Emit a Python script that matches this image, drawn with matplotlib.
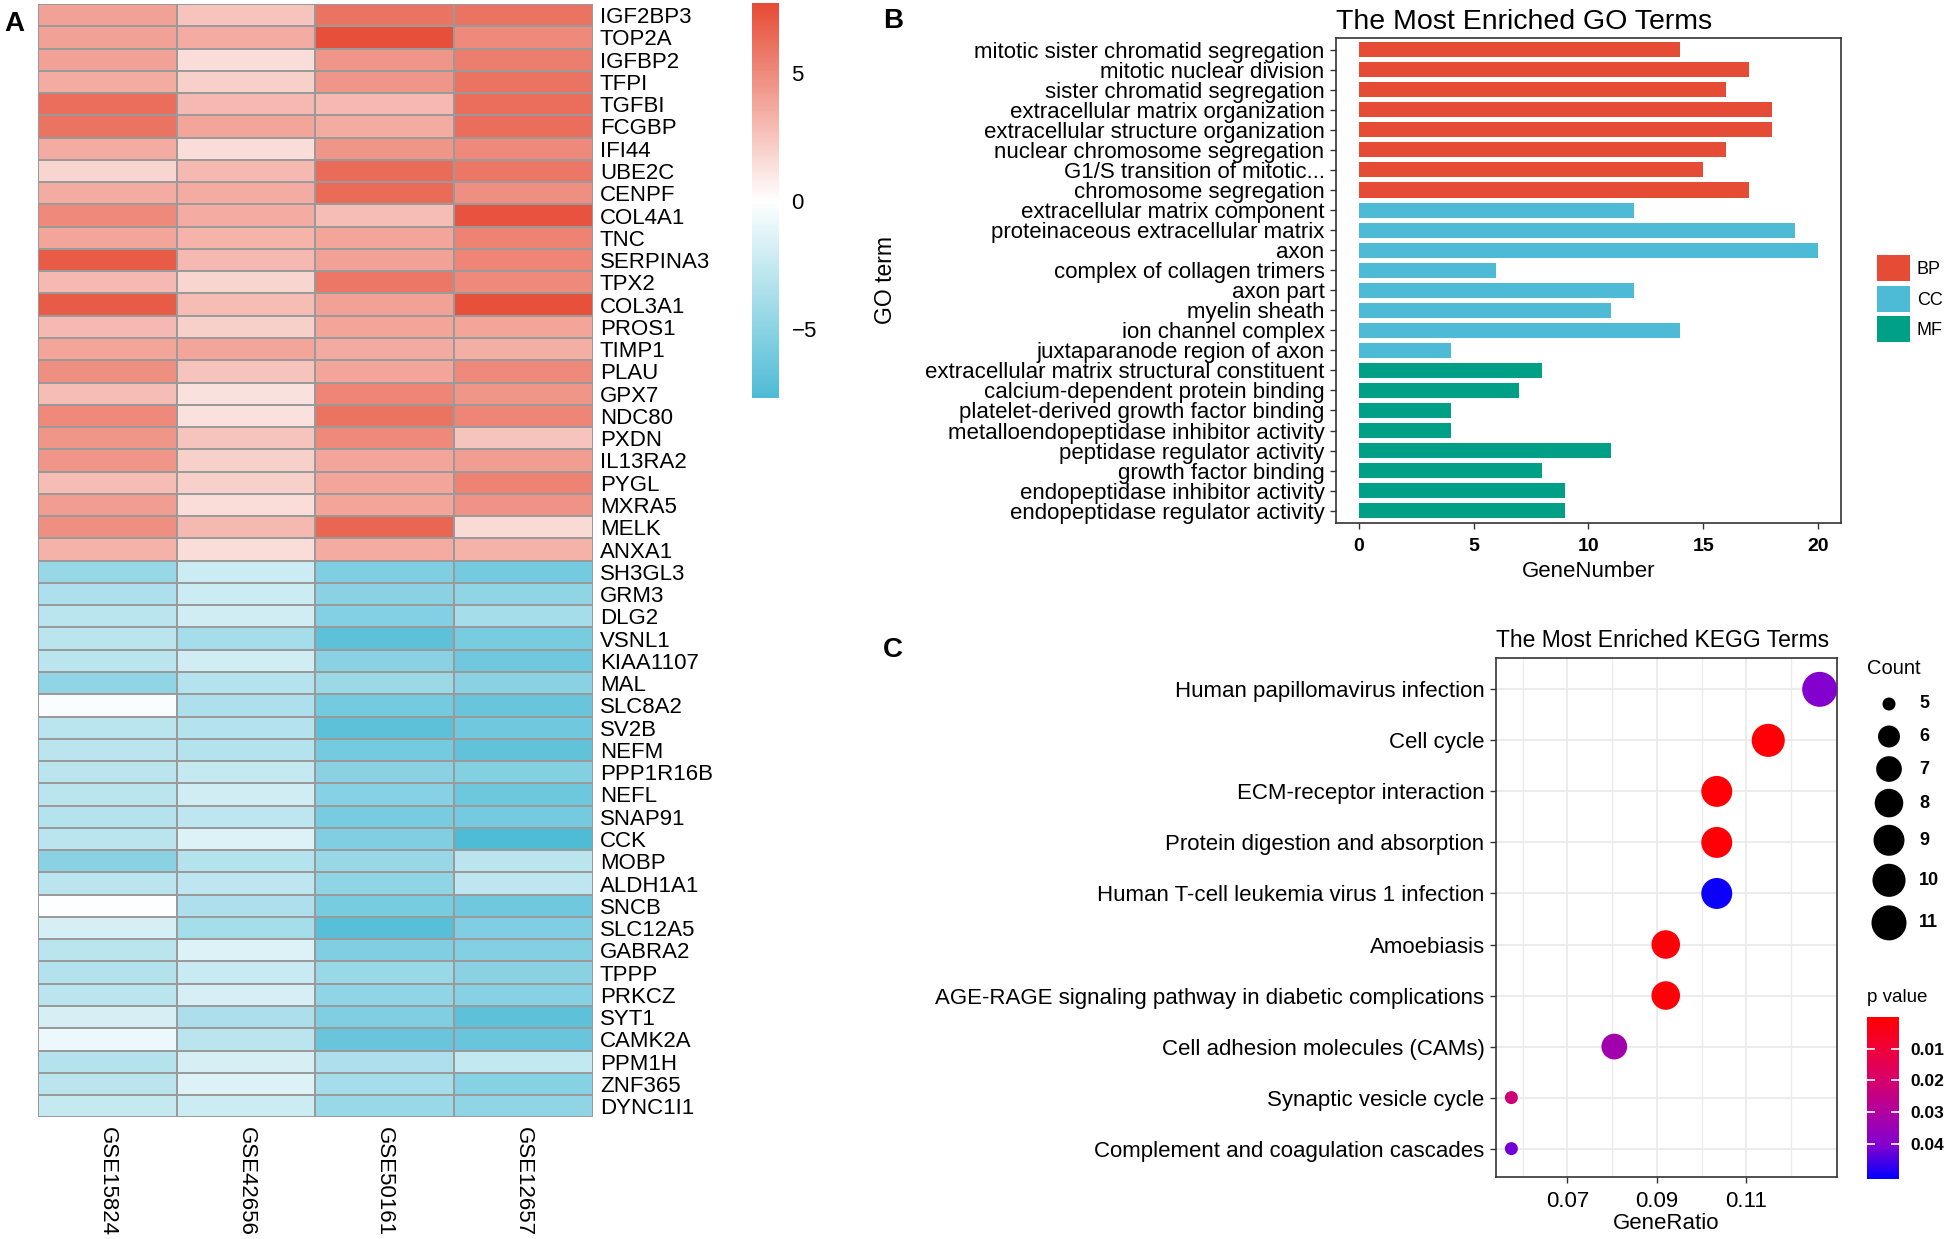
import numpy as np
import matplotlib
matplotlib.use('Agg')
import matplotlib.pyplot as plt
from matplotlib.colors import LinearSegmentedColormap, Normalize
from matplotlib.cm import ScalarMappable
from matplotlib.patches import Patch
from matplotlib import font_manager

plt.rcParams['font.family'] = ['Liberation Sans', 'DejaVu Sans']

# ---------------- data: heatmap (A) ----------------
genes = ['IGF2BP3', 'TOP2A', 'IGFBP2', 'TFPI', 'TGFBI', 'FCGBP', 'IFI44', 'UBE2C',
         'CENPF', 'COL4A1', 'TNC', 'SERPINA3', 'TPX2', 'COL3A1', 'PROS1', 'TIMP1',
         'PLAU', 'GPX7', 'NDC80', 'PXDN', 'IL13RA2', 'PYGL', 'MXRA5', 'MELK', 'ANXA1',
         'SH3GL3', 'GRM3', 'DLG2', 'VSNL1', 'KIAA1107', 'MAL', 'SLC8A2', 'SV2B', 'NEFM',
         'PPP1R16B', 'NEFL', 'SNAP91', 'CCK', 'MOBP', 'ALDH1A1', 'SNCB', 'SLC12A5',
         'GABRA2', 'TPPP', 'PRKCZ', 'SYT1', 'CAMK2A', 'PPM1H', 'ZNF365', 'DYNC1I1']
datasets = ['GSE15824', 'GSE42656', 'GSE50161', 'GSE12657']

gse15824 = [4.0, 4.0, 4.0, 3.5, 6.2, 6.0, 3.5, 1.8, 3.5, 5.0, 3.8, 7.0, 3.0, 7.0, 3.0,
            3.8, 4.8, 2.8, 5.0, 4.5, 4.5, 2.8, 4.2, 4.8, 3.3,
            -4.5, -3.5, -3.0, -3.0, -3.0, -4.8, -0.2, -3.0, -3.0, -3.0, -3.0, -3.2,
            -3.0, -5.0, -3.0, -0.1, -1.8, -3.0, -3.3, -3.0, -1.8, -0.8, -3.2, -3.0, -2.5]
gse42656 = [2.5, 3.5, 1.5, 2.0, 3.0, 3.8, 1.5, 3.0, 3.5, 3.5, 3.2, 3.0, 1.8, 2.8, 2.0,
            3.8, 2.5, 1.3, 1.3, 2.5, 2.0, 2.0, 1.5, 3.0, 1.5,
            -2.2, -2.2, -2.0, -3.8, -2.0, -3.2, -3.5, -3.2, -3.2, -2.5, -2.0, -2.8,
            -1.5, -3.2, -2.8, -3.5, -3.8, -1.5, -2.4, -1.8, -3.6, -3.0, -1.8, -1.5, -2.2]
gse50161 = [6.0, 7.5, 4.5, 4.5, 3.0, 3.5, 4.5, 6.3, 6.3, 2.8, 3.8, 4.0, 5.8, 4.0, 3.8,
            3.6, 3.8, 5.2, 6.0, 5.0, 3.8, 3.8, 3.8, 6.5, 3.5,
            -5.5, -5.0, -5.3, -7.0, -5.0, -4.3, -6.0, -7.0, -6.0, -5.0, -5.2, -5.8,
            -5.5, -4.5, -4.8, -5.8, -7.2, -5.5, -4.4, -4.8, -5.5, -6.5, -3.5, -3.8, -4.4]
gse12657 = [6.0, 5.0, 5.5, 6.0, 6.2, 6.2, 5.0, 5.8, 4.8, 7.3, 5.3, 5.2, 5.0, 7.4, 3.8,
            3.4, 5.0, 4.5, 5.2, 2.5, 4.2, 5.3, 4.6, 1.6, 3.3,
            -6.0, -4.8, -3.8, -5.8, -6.2, -5.0, -6.5, -6.2, -6.8, -5.3, -6.3, -6.0,
            -7.6, -3.0, -2.8, -6.2, -5.5, -5.3, -5.0, -5.2, -7.0, -6.5, -2.6, -5.2, -4.8]

# ---------------- data: GO terms (B) ----------------
go_terms = ['mitotic sister chromatid segregation', 'mitotic nuclear division',
            'sister chromatid segregation', 'extracellular matrix organization',
            'extracellular structure organization', 'nuclear chromosome segregation',
            'G1/S transition of mitotic...', 'chromosome segregation',
            'extracellular matrix component', 'proteinaceous extracellular matrix',
            'axon', 'complex of collagen trimers', 'axon part', 'myelin sheath',
            'ion channel complex', 'juxtaparanode region of axon',
            'extracellular matrix structural constituent', 'calcium-dependent protein binding',
            'platelet-derived growth factor binding', 'metalloendopeptidase inhibitor activity',
            'peptidase regulator activity', 'growth factor binding',
            'endopeptidase inhibitor activity', 'endopeptidase regulator activity']
go_counts = [14, 17, 16, 18, 18, 16, 15, 17, 12, 19, 20, 6, 12, 11, 14, 4,
             8, 7, 4, 4, 11, 8, 9, 9]
go_class = ['BP'] * 8 + ['CC'] * 8 + ['MF'] * 8
class_colors = {'BP': '#E64B35', 'CC': '#4DBBD5', 'MF': '#00A087'}

# ---------------- data: KEGG terms (C) ----------------
kegg_terms = ['Human papillomavirus infection', 'Cell cycle', 'ECM-receptor interaction',
              'Protein digestion and absorption', 'Human T-cell leukemia virus 1 infection',
              'Amoebiasis', 'AGE-RAGE signaling pathway in diabetic complications',
              'Cell adhesion molecules (CAMs)', 'Synaptic vesicle cycle',
              'Complement and coagulation cascades']
kegg_ratio = [0.1264, 0.1149, 0.1034, 0.1034, 0.1034, 0.0920, 0.0920, 0.0805, 0.0575, 0.0575]
kegg_count = [11, 10, 9, 9, 9, 8, 8, 7, 5, 5]
kegg_p = [0.040, 0.001, 0.001, 0.001, 0.050, 0.001, 0.001, 0.033, 0.022, 0.042]
count_breaks = [5, 6, 7, 8, 9, 10, 11]
p_ticks = [0.01, 0.02, 0.03, 0.04]

W, H = 1950, 1239
fig = plt.figure(figsize=(W / 100, H / 100), dpi=100)


def frac(x0, y0, x1, y1):
    # pixel box (top-left origin) -> figure fraction rect
    return [x0 / W, 1 - y1 / H, (x1 - x0) / W, (y1 - y0) / H]


# ---------------- A: heatmap ----------------
hm_cmap = LinearSegmentedColormap.from_list('hm', ['#4DBBD5', '#FFFFFF', '#E64B35'])
hm_vmin, hm_vmax = -7.7, 7.7
mat = np.array([gse15824, gse42656, gse50161, gse12657]).T

ax_hm = fig.add_axes(frac(37.7, 4, 593, 1117.3))
ax_hm.pcolormesh(mat, cmap=hm_cmap, vmin=hm_vmin, vmax=hm_vmax,
                 edgecolors='#9A9A9A', linewidth=1.3)
ax_hm.set_xlim(0, len(datasets))
ax_hm.set_ylim(len(genes), 0)
for s in ax_hm.spines.values():
    s.set_visible(False)
ax_hm.yaxis.tick_right()
ax_hm.set_yticks(np.arange(len(genes)) + 0.5)
ax_hm.set_yticklabels(genes, fontsize=16)
ax_hm.set_xticks(np.arange(len(datasets)) + 0.5)
ax_hm.set_xticklabels(datasets, rotation=-90, fontsize=16, va='top', ha='center')
ax_hm.tick_params(length=0, axis='y', pad=5)
ax_hm.tick_params(length=0, axis='x', pad=7)

cax = fig.add_axes(frac(752.3, 3.3, 779, 398))
cb = fig.colorbar(ScalarMappable(Normalize(hm_vmin, hm_vmax), hm_cmap), cax=cax, ticks=[-5, 0, 5])
cb.outline.set_visible(False)
cax.tick_params(length=0, pad=9, labelsize=16)

# ---------------- B: GO bar chart ----------------
try:
    font_manager.findfont('Liberation Sans Narrow', fallback_to_default=False)
    go_font, go_fs = 'Liberation Sans Narrow', 19
except ValueError:
    go_font, go_fs = 'Liberation Sans', 16

ax_go = fig.add_axes(frac(1335.7, 37.7, 1841, 522.7))
ypos = np.arange(len(go_terms))
ax_go.barh(ypos, go_counts, height=0.75, color=[class_colors[c] for c in go_class])
ax_go.set_xlim(-1, 21)
ax_go.set_ylim(len(go_terms) - 0.4, -0.6)
ax_go.set_yticks(ypos)
ax_go.set_yticklabels(go_terms, fontfamily=go_font, fontsize=go_fs)
ax_go.set_xticks([0, 5, 10, 15, 20])
ax_go.set_xticklabels(['0', '5', '10', '15', '20'], fontweight='bold', fontsize=14)
ax_go.tick_params(length=4, width=1, color='#333333', pad=4)
ax_go.tick_params(axis='x', pad=7)
for s in ax_go.spines.values():
    s.set_linewidth(1.2)
    s.set_color('#333333')
ax_go.set_xlabel('GeneNumber', fontsize=16, labelpad=4)
ax_go.set_ylabel('GO term', fontsize=16.5, labelpad=0)
ax_go.yaxis.set_label_coords((896.7 - 1335.7) / (1841 - 1335.7), 0.5)
ax_go.set_title('The Most Enriched GO Terms', loc='left', fontsize=20.5, pad=6)
handles = [Patch(facecolor=class_colors[k]) for k in ['BP', 'CC', 'MF']]
ax_go.legend(handles, ['BP', 'CC', 'MF'], loc='center left', frameon=False,
             bbox_to_anchor=(1877 / W, 1 - 298.7 / H), bbox_transform=fig.transFigure,
             fontsize=13, handlelength=1.85, handleheight=1.85, labelspacing=0.25,
             handletextpad=0.35, borderpad=0, borderaxespad=0)

# ---------------- C: KEGG dot plot ----------------
p_cmap = LinearSegmentedColormap.from_list(
    'pv', [(0.0, '#FF0000'), (0.2, '#F0003A'), (0.4, '#D5006E'),
           (0.6, '#AE00A2'), (0.8, '#7F00D2'), (1.0, '#0000FF')])
p_norm = Normalize(0.0, 0.051)


def dot_diam(c):
    return 13 + 22 * np.sqrt((c - 5) / 6.0)


def dot_area(c):
    return (dot_diam(np.asarray(c, dtype=float)) * 0.72) ** 2


ax_kg = fig.add_axes(frac(1495.7, 657.7, 1836.7, 1176.7))
ky = np.arange(len(kegg_terms))
ax_kg.scatter(kegg_ratio, ky, s=dot_area(kegg_count), c=kegg_p, cmap=p_cmap,
              norm=p_norm, edgecolors='none', zorder=3)
ax_kg.set_xlim(0.0540, 0.1302)
ax_kg.set_ylim(len(kegg_terms) - 0.45, -0.62)
ax_kg.set_xticks([0.07, 0.09, 0.11])
ax_kg.set_xticks([0.06, 0.08, 0.10, 0.12], minor=True)
ax_kg.set_xticklabels(['0.07', '0.09', '0.11'], fontsize=16)
ax_kg.set_yticks(ky)
ax_kg.set_yticklabels(kegg_terms, fontsize=16)
ax_kg.grid(which='major', color='#EBEBEB', linewidth=1.3)
ax_kg.grid(which='minor', axis='x', color='#EBEBEB', linewidth=1.0)
ax_kg.set_axisbelow(True)
ax_kg.tick_params(which='major', length=4, width=1, color='#333333', pad=4)
ax_kg.tick_params(which='major', axis='x', pad=6)
ax_kg.tick_params(which='minor', length=0)
for s in ax_kg.spines.values():
    s.set_linewidth(1.2)
    s.set_color('#333333')
ax_kg.set_xlabel('GeneRatio', fontsize=16, labelpad=1)
ax_kg.set_title('The Most Enriched KEGG Terms', loc='left', fontsize=16.5, pad=8)

pax = fig.add_axes(frac(1867, 1016.7, 1899, 1179.3))
pcb = fig.colorbar(ScalarMappable(p_norm, p_cmap), cax=pax, ticks=p_ticks)
pcb.outline.set_visible(False)
pax.invert_yaxis()
pax.yaxis.set_ticks_position('both')
pax.yaxis.set_label_position('right')
pax.tick_params(direction='in', color='white', length=6, width=1.2,
                labelsize=12.5, pad=8, labelleft=False, labelright=True)
for t in pax.get_yticklabels():
    t.set_fontweight('bold')

# ---------------- overlay in pixel coords: panel letters, legend titles ----------------
ov = fig.add_axes([0, 0, 1, 1])
ov.set_xlim(0, W)
ov.set_ylim(H, 0)
ov.axis('off')
for lab, x, y in [('A', 4, 24), ('B', 883, 21), ('C', 883, 650)]:
    ov.text(x, y, lab, fontsize=20, fontweight='bold', ha='left', va='center')

ov.text(1867, 668, 'Count', fontsize=14.5, ha='left', va='center')
y_cur = 704
prev_h = None
for c in count_breaks:
    h = max(32.5, 1.25 * dot_diam(c))
    if prev_h is not None:
        y_cur += (prev_h + h) / 2
    ov.scatter([1889], [y_cur], s=dot_area(c), color='black', edgecolors='none')
    ov.text(1919, y_cur, str(c), fontsize=13, fontweight='bold', ha='left', va='center')
    prev_h = h
ov.text(1867, 998, 'p value', fontsize=13.5, ha='left', va='center')

fig.savefig('out.png', dpi=100)
